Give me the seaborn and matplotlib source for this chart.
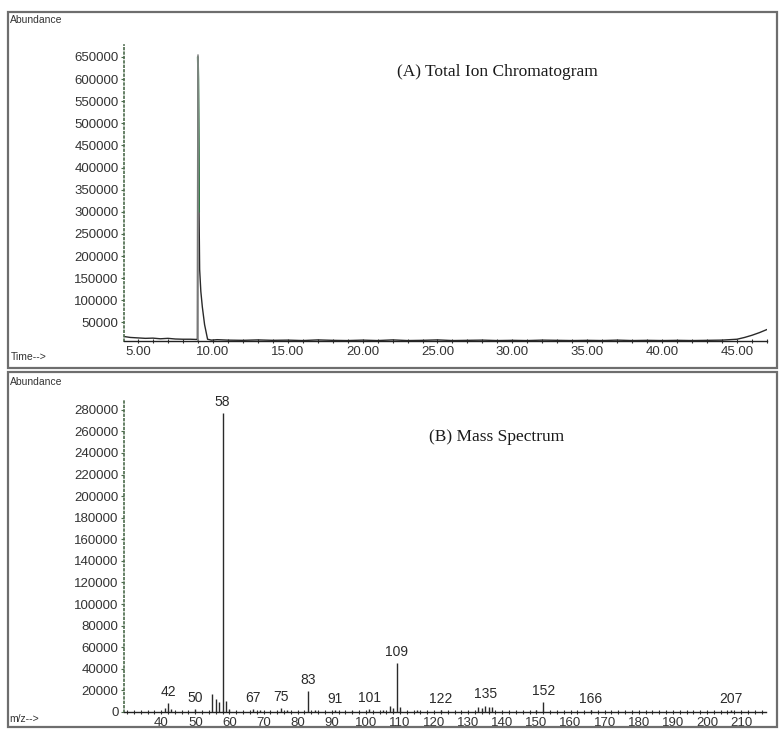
import matplotlib
matplotlib.use("Agg")
import matplotlib.pyplot as plt
import matplotlib.ticker as mticker
from matplotlib.patches import Rectangle
import seaborn as sns
import pandas as pd

# (A) total ion chromatogram
tic_time = [4.1, 4.5, 5.0, 5.5, 6.0, 6.5, 7.0, 7.5, 8.0, 8.5, 8.9, 8.97, 9.0, 9.03,
            9.08, 9.12, 9.2, 9.3, 9.45, 9.65, 9.9, 10.3, 11, 12, 13, 14, 15, 16, 17,
            18, 19, 20, 21, 22, 23, 24, 25, 26, 27, 28, 29, 30, 31, 32, 33, 34, 35,
            36, 37, 38, 39, 40, 41, 42, 43, 44, 45, 45.5, 46, 46.5, 47]
tic_abund = [18000, 16000, 15000, 14000, 14500, 13000, 14000, 12500, 12000, 12000, 11500,
             12000, 650000, 600000, 300000, 170000, 120000, 85000, 45000, 12000, 10000,
             11000, 10000, 9500, 10500, 9500, 10000, 9000, 10500, 9500, 9000, 10000, 9000,
             10500, 9000, 9500, 10500, 9000, 9500, 10000, 9000, 9500, 9000, 10000, 9500,
             9000, 9500, 9000, 10000, 9000, 9500, 9000, 9500, 9000, 9500, 10000, 12000,
             16000, 21000, 27000, 34000]

# (B) mass spectrum
mz = [41, 42, 43, 50, 55, 56, 57, 58, 59, 60, 67, 69, 75, 77, 83, 85, 91, 96, 101,
      105, 107, 108, 109, 110, 115, 122, 133, 134, 135, 136, 137, 150, 152, 166, 207]
ms_abund = [4000, 8000, 3000, 2500, 17000, 12000, 9000, 277000, 10000, 3000, 3000,
            1500, 4000, 1500, 19500, 1500, 2000, 1000, 2500, 1500, 6000, 4000, 45500,
            5000, 1500, 2000, 5000, 4000, 6000, 4500, 5000, 1500, 9000, 2000, 1500]
labelled = [42, 50, 58, 67, 75, 83, 91, 101, 109, 122, 135, 152, 166, 207]
label_height = {42: 8000, 50: 3000, 58: 277000, 67: 3000, 75: 4000, 83: 19500,
                91: 2000, 101: 2500, 109: 45500, 122: 2000, 135: 6000, 152: 9000,
                166: 2000, 207: 1500}

sns.set_style("white")
plt.rcParams["font.family"] = ["Liberation Sans", "DejaVu Sans"]

W, H = 779, 729
fig = plt.figure(figsize=(W / 100, H / 100), dpi=100)


def fx(px):
    return px / W


def fy(py):
    return 1 - py / H


# outer frames of the two panels
for top, bot in [(12, 368), (372, 727)]:
    fig.patches.append(Rectangle((fx(8), fy(bot)), fx(769), (bot - top) / H,
                                 transform=fig.transFigure, fill=False,
                                 edgecolor="#6e6e6e", linewidth=1.6))

tick_col = "#333333"


def style_axes(ax):
    sns.despine(ax=ax, top=True, right=True)
    ax.spines["left"].set_linestyle(":")
    ax.spines["left"].set_color("#4c6b4c")
    ax.spines["left"].set_linewidth(1.2)
    ax.spines["bottom"].set_color("#222222")
    ax.spines["bottom"].set_linewidth(1.0)
    ax.tick_params(axis="both", which="both", bottom=True, left=True)
    ax.tick_params(axis="both", which="major", labelsize=9.5, colors=tick_col,
                   length=3, width=0.8, pad=2)
    ax.tick_params(axis="x", which="both", direction="inout")
    ax.tick_params(axis="x", which="minor", length=3, width=0.8, colors=tick_col)
    ax.tick_params(axis="y", which="major", length=2, color="#4c6b4c")
    ax.set_xlabel("")
    ax.set_ylabel("")
    ax.grid(False)


# ---- panel A ----
axA = fig.add_axes([fx(124), fy(341), fx(767 - 124), (341 - 45) / H])
tic = pd.DataFrame({"time": tic_time, "abundance": tic_abund})
sns.lineplot(data=tic, x="time", y="abundance", ax=axA, color="#2a2a2a",
             linewidth=1.0, estimator=None, sort=False)
top_part = tic[(tic["time"] >= 9.0) & (tic["time"] <= 9.08)]
sns.lineplot(data=top_part, x="time", y="abundance", ax=axA, color="#2f7a45",
             linewidth=1.4, estimator=None, sort=False)
axA.plot([8.99, 8.99], [9000, 655000], color="#8a8a8a", linewidth=1.2)
axA.set_xlim(4.07, 47)
axA.set_ylim(8000, 677000)
axA.set_xticks([5, 10, 15, 20, 25, 30, 35, 40, 45])
axA.set_xticklabels(["5.00", "10.00", "15.00", "20.00", "25.00", "30.00", "35.00",
                     "40.00", "45.00"])
axA.xaxis.set_minor_locator(mticker.MultipleLocator(1))
axA.set_yticks(range(50000, 650001, 50000))
axA.set_yticklabels([str(v) for v in range(50000, 650001, 50000)])
style_axes(axA)
axA.text(0.58, 0.91, "(A) Total Ion Chromatogram", transform=axA.transAxes,
         ha="center", va="center", fontsize=12.5, family="Liberation Serif",
         color="#1a1a1a")

# ---- panel B ----
axB = fig.add_axes([fx(124), fy(712), fx(766 - 124), (712 - 399) / H])
axB.vlines(mz, 0, ms_abund, color="#2a2a2a", linewidth=1.0)
for m in labelled:
    axB.annotate(str(m), (m, label_height[m]), xytext=(0, 3),
                 textcoords="offset points", ha="center", va="bottom",
                 fontsize=10, color="#2a2a2a")
axB.set_xlim(29.1, 217.3)
axB.set_ylim(0, 290000)
axB.set_xticks(range(40, 211, 10))
axB.xaxis.set_minor_locator(mticker.MultipleLocator(2))
axB.set_yticks(range(0, 280001, 20000))
axB.set_yticklabels([str(v) for v in range(0, 280001, 20000)])
style_axes(axB)
axB.text(0.58, 0.88, "(B) Mass Spectrum", transform=axB.transAxes,
         ha="center", va="center", fontsize=12.5, family="Liberation Serif",
         color="#1a1a1a")

# corner labels of the instrument printout
small = dict(fontsize=7.5, color="#333333", va="center", ha="left")
fig.text(fx(10), fy(20), "Abundance", **small)
fig.text(fx(11), fy(357), "Time-->", **small)
fig.text(fx(10), fy(382), "Abundance", **small)
fig.text(fx(9), fy(719), "m/z-->", **small)

fig.savefig("out.png", dpi=100)
